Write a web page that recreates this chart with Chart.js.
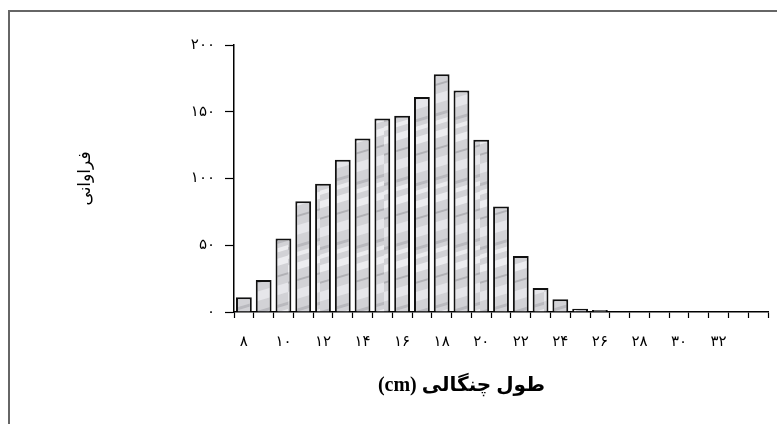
<!DOCTYPE html>
<html>
<head>
<meta charset="utf-8">
<script src="https://cdn.jsdelivr.net/npm/chart.js@4.4.0/dist/chart.umd.min.js"></script>
<style>
    html, body { margin: 0; padding: 0; background: #fff; }
    #wrap { position: relative; width: 777px; height: 424px; overflow: hidden; }
    #frame { position: absolute; left: 8px; top: 10px; width: 800px; height: 500px;
             border-top: 2px solid #666; border-left: 2px solid #666; }
    #hist { position: absolute; left: 0; top: 0; }
</style>
</head>
<body>
<div id="wrap">
    <div id="frame"></div>
    <canvas id="hist" width="777" height="424"></canvas>
</div>
<script>
// fork length (cm) classes and how many fish fall in each
var lengths = [8, 9, 10, 11, 12, 13, 14, 15, 16, 17, 18, 19, 20, 21, 22, 23, 24, 25, 26, 27, 28, 29, 30, 31, 32, 33, 34];
var frequencies = [11, 24, 55, 83, 96, 114, 130, 145, 147, 161, 178, 166, 129, 79, 42, 18, 9.5, 2.5, 1.5, 0, 0, 0, 0, 0, 0, 0, 0];
var lengthLabels = ['۸', '', '۱۰', '', '۱۲', '', '۱۴', '', '۱۶', '', '۱۸', '', '۲۰', '', '۲۲', '', '۲۴', '', '۲۶', '', '۲۸', '', '۳۰', '', '۳۲', '', ''];
var freqTicks = [0, 50, 100, 150, 200];
var freqLabels = ['۰', '۵۰', '۱۰۰', '۱۵۰', '۲۰۰'];
var xTitle = 'طول چنگالی (cm)';
var yTitle = 'فراوانی';

var fontFamily = "'Liberation Serif', 'DejaVu Sans', serif";

// grey marble-like fill for the bars
function marblePattern(ctx){
    var c = document.createElement('canvas');
    c.width = 32;
    c.height = 64;
    var g = c.getContext('2d');
    g.fillStyle = '#d2d2d6';
    g.fillRect(0, 0, 32, 64);
    var streak = function(y, width, color){
        g.strokeStyle = color;
        g.lineWidth = width;
        for (var dy = -64; dy <= 64; dy += 64){
            g.beginPath();
            g.moveTo(-4, y + dy + 8);
            g.lineTo(36, y + dy - 4);
            g.stroke();
        }
    };
    streak(6, 7, 'rgba(245,245,248,0.75)');
    streak(20, 2, 'rgba(150,150,155,0.55)');
    streak(34, 9, 'rgba(238,238,242,0.7)');
    streak(50, 3, 'rgba(160,160,165,0.5)');
    streak(58, 4, 'rgba(250,250,252,0.65)');
    return ctx.createPattern(c, 'repeat');
}

var xTitlePlugin = {
    id: 'xTitle',
    afterDraw(chart){
        var ctx = chart.ctx;
        var x = chart.scales.x;
        ctx.save();
        ctx.font = 'bold 20px ' + fontFamily;
        ctx.fillStyle = '#000';
        ctx.textAlign = 'center';
        ctx.textBaseline = 'middle';
        ctx.direction = 'rtl';
        ctx.fillText(xTitle, x.getPixelForValue(11), x.bottom - 38);
        ctx.restore();
    }
};

var ctx = document.getElementById('hist').getContext('2d');
var histogram = new Chart(ctx, {
    type: 'bar',
    data: {
        labels: lengths,
        datasets: [{
            data: frequencies,
            backgroundColor: marblePattern(ctx),
            borderColor: '#111',
            borderWidth: 2,
            barPercentage: 0.8,
            categoryPercentage: 1
        }]
    },
    options: {
        responsive: false,
        animation: false,
        events: [],
        layout: { padding: { left: 8, right: 9, top: 45, bottom: 0 } },
        plugins: {
            legend: { display: false },
            tooltip: { enabled: false }
        },
        scales: {
            x: {
                grid: { display: true, drawOnChartArea: false, offset: true, color: '#000', tickLength: 6, tickWidth: 1.2 },
                border: { color: '#000', width: 1.5 },
                ticks: {
                    autoSkip: false,
                    maxRotation: 0,
                    padding: 15,
                    color: '#000',
                    font: { family: fontFamily, size: 15 },
                    callback: function(value, index){ return lengthLabels[index]; }
                },
                afterFit: function(scale){ scale.height = 112; }
            },
            y: {
                min: 0,
                max: 200,
                grid: { display: true, drawOnChartArea: false, color: '#000', tickLength: 9, tickWidth: 1.2 },
                border: { color: '#000', width: 1.5 },
                ticks: {
                    stepSize: 50,
                    padding: 10,
                    color: '#000',
                    font: { family: fontFamily, size: 15 },
                    callback: function(value){ return freqLabels[freqTicks.indexOf(value)]; }
                },
                title: {
                    display: true,
                    text: yTitle,
                    color: '#000',
                    font: { family: fontFamily, size: 17 },
                    padding: { top: 67, bottom: 0 }
                },
                afterFit: function(scale){ scale.width = 226; }
            }
        }
    },
    plugins: [xTitlePlugin]
});
</script>
</body>
</html>
